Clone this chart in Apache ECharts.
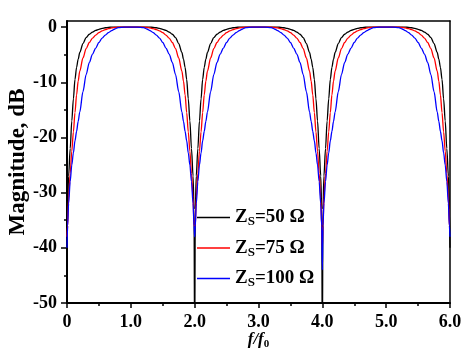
<!DOCTYPE html>
<html><head><meta charset="utf-8">
<script src="https://cdn.jsdelivr.net/npm/echarts@6/dist/echarts.min.js"></script>
<style>html,body{margin:0;padding:0;background:#fff}#c{width:471px;height:359px}</style>
</head><body><div id="c"></div>
<script>
// normalized frequency f/f0
const freq = [
  0, 0.01, 0.025, 0.05, 0.075, 0.1, 0.125, 0.15, 0.175, 0.2, 0.25, 0.3, 0.35, 0.4, 0.45, 0.5, 0.55, 0.6, 0.65, 0.7, 0.75, 0.8, 0.9, 1.0,
  1.1, 1.2, 1.25, 1.3, 1.35, 1.4, 1.45, 1.5, 1.55, 1.6, 1.65, 1.7, 1.75, 1.8, 1.825, 1.85, 1.875, 1.9, 1.925, 1.95, 1.975, 1.99, 2.0,
  2.01, 2.025, 2.05, 2.075, 2.1, 2.125, 2.15, 2.175, 2.2, 2.25, 2.3, 2.35, 2.4, 2.45, 2.5, 2.55, 2.6, 2.65, 2.7, 2.75, 2.8, 2.9, 3.0,
  3.1, 3.2, 3.25, 3.3, 3.35, 3.4, 3.45, 3.5, 3.55, 3.6, 3.65, 3.7, 3.75, 3.8, 3.825, 3.85, 3.875, 3.9, 3.925, 3.95, 3.975, 3.99, 4.0,
  4.01, 4.025, 4.05, 4.075, 4.1, 4.125, 4.15, 4.175, 4.2, 4.25, 4.3, 4.35, 4.4, 4.45, 4.5, 4.55, 4.6, 4.65, 4.7, 4.75, 4.8, 4.9, 5.0,
  5.1, 5.2, 5.25, 5.3, 5.35, 5.4, 5.45, 5.5, 5.55, 5.6, 5.65, 5.7, 5.75, 5.8, 5.825, 5.85, 5.875, 5.9, 5.925, 5.95, 5.975, 5.99, 6.0
];
// Zs = 50 ohm (black)
const mag50 = [
  -40, -33, -27, -22, -17, -13, -9.5, -7.3, -5.8, -4.6, -3.0, -1.9, -1.3, -0.9, -0.6, -0.4, -0.25, -0.12, -0.05, -0.02, 0, 0, 0, 0,
  0, 0, 0, -0.02, -0.05, -0.12, -0.25, -0.4, -0.6, -0.9, -1.3, -1.9, -3.0, -4.6, -5.8, -7.3, -9.5, -13, -17, -22, -27, -33, -60,
  -33, -27, -22, -17, -13, -9.5, -7.3, -5.8, -4.6, -3.0, -1.9, -1.3, -0.9, -0.6, -0.4, -0.25, -0.12, -0.05, -0.02, 0, 0, 0, 0,
  0, 0, 0, -0.02, -0.05, -0.12, -0.25, -0.4, -0.6, -0.9, -1.3, -1.9, -3.0, -4.6, -5.8, -7.3, -9.5, -13, -17, -22, -27, -33, -60,
  -33, -27, -22, -17, -13, -9.5, -7.3, -5.8, -4.6, -3.0, -1.9, -1.3, -0.9, -0.6, -0.4, -0.25, -0.12, -0.05, -0.02, 0, 0, 0, 0,
  0, 0, 0, -0.02, -0.05, -0.12, -0.25, -0.4, -0.6, -0.9, -1.3, -1.9, -3.0, -4.6, -5.8, -7.3, -9.5, -13, -17, -22, -27, -33, -40
];
// Zs = 75 ohm (red)
const mag75 = [
  -38, -36, -31, -26.5, -22.5, -19, -15.5, -12.3, -9.8, -8.0, -5.6, -3.9, -2.8, -2.0, -1.45, -1.0, -0.7, -0.45, -0.28, -0.15, -0.06, -0.02, 0, 0,
  0, -0.02, -0.06, -0.15, -0.28, -0.45, -0.7, -1.0, -1.45, -2.0, -2.8, -3.9, -5.6, -8.0, -9.8, -12.3, -15.5, -19, -22.5, -26.5, -31, -36, -36,
  -36, -31, -26.5, -22.5, -19, -15.5, -12.3, -9.8, -8.0, -5.6, -3.9, -2.8, -2.0, -1.45, -1.0, -0.7, -0.45, -0.28, -0.15, -0.06, -0.02, 0, 0,
  0, -0.02, -0.06, -0.15, -0.28, -0.45, -0.7, -1.0, -1.45, -2.0, -2.8, -3.9, -5.6, -8.0, -9.8, -12.3, -15.5, -19, -22.5, -26.5, -31, -36, -40,
  -36, -31, -26.5, -22.5, -19, -15.5, -12.3, -9.8, -8.0, -5.6, -3.9, -2.8, -2.0, -1.45, -1.0, -0.7, -0.45, -0.28, -0.15, -0.06, -0.02, 0, 0,
  0, -0.02, -0.06, -0.15, -0.28, -0.45, -0.7, -1.0, -1.45, -2.0, -2.8, -3.9, -5.6, -8.0, -9.8, -12.3, -15.5, -19, -22.5, -26.5, -31, -36, -36
];
// Zs = 100 ohm (blue)
const mag100 = [
  -40, -36, -32, -28, -25, -22.8, -20.6, -18.9, -17.1, -15.4, -11.7, -8.6, -6.4, -4.9, -3.8, -2.8, -2.0, -1.45, -1.0, -0.65, -0.35, -0.1, 0, 0,
  0, -0.1, -0.35, -0.65, -1.0, -1.45, -2.0, -2.8, -3.8, -4.9, -6.4, -8.6, -11.7, -15.4, -17.1, -18.9, -20.6, -22.8, -25, -28, -32, -36, -38,
  -36, -32, -28, -25, -22.8, -20.6, -18.9, -17.1, -15.4, -11.7, -8.6, -6.4, -4.9, -3.8, -2.8, -2.0, -1.45, -1.0, -0.65, -0.35, -0.1, 0, 0,
  0, -0.1, -0.35, -0.65, -1.0, -1.45, -2.0, -2.8, -3.8, -4.9, -6.4, -8.6, -11.7, -15.4, -17.1, -18.9, -20.6, -22.8, -25, -28, -32, -36, -44,
  -36, -32, -28, -25, -22.8, -20.6, -18.9, -17.1, -15.4, -11.7, -8.6, -6.4, -4.9, -3.8, -2.8, -2.0, -1.45, -1.0, -0.65, -0.35, -0.1, 0, 0,
  0, -0.1, -0.35, -0.65, -1.0, -1.45, -2.0, -2.8, -3.8, -4.9, -6.4, -8.6, -11.7, -15.4, -17.1, -18.9, -20.6, -22.8, -25, -28, -32, -36, -38
];
const seriesNames = ['ZS=50 Ω', 'ZS=75 Ω', 'ZS=100 Ω'];
const seriesValues = ['50', '75', '100'];
const seriesColors = ['#000000', '#ff0000', '#0000ff'];
const xTickValues = [0, 1, 2, 3, 4, 5, 6];
const yTickValues = [-50, -40, -30, -20, -10, 0];
const yMinorTickValues = [-45, -35, -25, -15, -5];

const FONT = 'Liberation Serif';
const chart = echarts.init(document.getElementById('c'), null, {renderer: 'canvas'});
const allData = [mag50, mag75, mag100];

const option = {
  animation: false,
  backgroundColor: '#fff',
  grid: {left: 67, right: 21, top: 21, bottom: 56, containLabel: false, outerBoundsMode: 'none'},
  legend: {
    orient: 'vertical', left: 192, top: 203, itemWidth: 33, itemHeight: 1.4, itemGap: 10,
    icon: 'rect',
    data: seriesNames,
    formatter: function (name) {
      const i = seriesNames.indexOf(name);
      return '{z|Z}{s|S}{z|=' + seriesValues[i] + ' Ω}';
    },
    textStyle: {
      color: '#000',
      rich: {
        z: {fontFamily: FONT, fontWeight: 'bold', fontSize: 19, lineHeight: 22, color: '#000'},
        s: {fontFamily: FONT, fontWeight: 'bold', fontSize: 13, lineHeight: 13, verticalAlign: 'bottom', color: '#000'}
      }
    }
  },
  xAxis: [{
    type: 'value', min: 0, max: 6, interval: 1, position: 'bottom',
    axisLine: {show: true, onZero: false, lineStyle: {color: '#000', width: 2}},
    axisTick: {show: true, inside: false, length: 5, lineStyle: {color: '#000', width: 1.5}},
    minorTick: {show: true, splitNumber: 2, length: 3, lineStyle: {color: '#000', width: 1.5}},
    splitLine: {show: false}, minorSplitLine: {show: false},
    axisLabel: {
      color: '#000', fontFamily: FONT, fontWeight: 'bold', fontSize: 18, margin: 10,
      formatter: function (v) { return v === 0 ? '0' : v.toFixed(1); }
    },
    name: '{i|f}{i|/}{i|f}{sub|0}', nameLocation: 'middle', nameGap: 27, nameMoveOverlap: false,
    nameTextStyle: {
      rich: {
        i: {fontFamily: FONT, fontStyle: 'italic', fontWeight: 'bold', fontSize: 17, lineHeight: 20, color: '#000'},
        sub: {fontFamily: FONT, fontWeight: 'bold', fontSize: 11, lineHeight: 11, verticalAlign: 'bottom', color: '#000'}
      }
    }
  }, {
    type: 'value', min: 0, max: 6, position: 'top',
    axisLine: {show: true, onZero: false, lineStyle: {color: '#000', width: 1.5}},
    axisTick: {show: false}, axisLabel: {show: false}, splitLine: {show: false}
  }],
  yAxis: [{
    type: 'value', min: -50, max: 1.1, position: 'left',
    axisLine: {show: true, onZero: false, lineStyle: {color: '#000', width: 2}},
    axisTick: {show: true, inside: false, length: 6, customValues: yTickValues, lineStyle: {color: '#000', width: 1.5}},
    axisLabel: {
      customValues: yTickValues,
      color: '#000', fontFamily: FONT, fontWeight: 'bold', fontSize: 18, margin: 10
    },
    splitLine: {show: false},
    name: 'Magnitude, dB', nameLocation: 'middle', nameGap: 37, nameMoveOverlap: false,
    nameTextStyle: {fontFamily: FONT, fontWeight: 'bold', fontSize: 23, color: '#000'}
  }, {
    type: 'value', min: -50, max: 1.1, position: 'left',
    axisLine: {show: false},
    axisTick: {show: true, inside: false, length: 3, customValues: yMinorTickValues, lineStyle: {color: '#000', width: 1.5}},
    axisLabel: {show: false}, splitLine: {show: false}
  }, {
    type: 'value', min: -50, max: 1.1, position: 'right',
    axisLine: {show: true, onZero: false, lineStyle: {color: '#000', width: 1.5}},
    axisTick: {show: false}, axisLabel: {show: false}, splitLine: {show: false}
  }],
  series: seriesNames.map(function (name, k) {
    return {
      name: name, type: 'line', xAxisIndex: 0, yAxisIndex: 0,
      symbol: 'none', smooth: 0.3, smoothMonotone: 'x', clip: true,
      lineStyle: {color: seriesColors[k], width: 1.3},
      itemStyle: {color: seriesColors[k]},
      data: freq.map(function (f, i) { return [f, allData[k][i]]; })
    };
  })
};
chart.setOption(option);
</script>
</body></html>
